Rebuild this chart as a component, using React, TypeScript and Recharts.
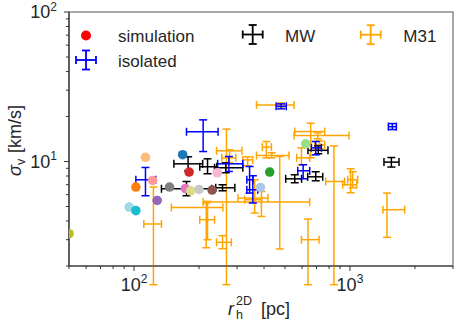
import React from 'react';
import { ScatterChart, Scatter, XAxis, YAxis, ErrorBar, ReferenceArea } from 'recharts';

const FONT = '"Liberation Sans", Arial, sans-serif';

// simulation points
const simX = [168, 385, 102, 113, 425, 624, 180, 122, 128, 230, 173, 243, 146, 200, 50, 183, 95, 102];
const simY = [11.1, 6.7, 6.75, 10.67, 8.5, 13.13, 8.5, 7.47, 5.49, 6.44, 6.6, 8.41, 6.75, 6.5, 3.29, 6.37, 4.96, 4.69];
const simColors = ['#1f77b4', '#aec7e8', '#ff7f0e', '#ffbb78', '#2ca02c', '#98df8a', '#d62728', '#ff9896', '#9467bd', '#8c564b', '#e377c2', '#f7b6d2', '#7f7f7f', '#c7c7c7', '#bcbd22', '#dbdb8d', '#9edae5', '#17becf'];

// isolated
const isoX = [113, 209, 275, 343, 355, 480, 694, 607, 1571];
const isoXLo = [102, 175, 244, 333, 333, 455, 663, 573, 1506];
const isoXHi = [126, 245, 319, 355, 374, 507, 737, 651, 1640];
const isoY = [7.55, 15.8, 9.65, 7.55, 6.47, 23.4, 12.35, 8.67, 17.1];
const isoYLo = [5.9, 11.66, 8.58, 6.15, 5.28, 22.5, 11.08, 7.66, 16.36];
const isoYHi = [9.12, 18.99, 10.8, 9.26, 8.03, 24.3, 13.6, 9.51, 17.94];

// MW
const mwX = [178, 219, 266, 175, 257, 713, 555, 694, 1555];
const mwXLo = [153, 201.5, 236, 134, 239, 639, 504, 637, 1437];
const mwXHi = [208, 241.5, 319, 229, 293, 791, 597, 748, 1687];
const mwY = [9.65, 9.22, 9.08, 6.57, 6.67, 11.88, 7.66, 7.9, 9.91];
const mwYLo = [8.67, 8.28, 8.41, 5.9, 6.37, 11.26, 7.21, 7.43, 9.18];
const mwYHi = [10.75, 10.42, 9.8, 7.35, 6.99, 12.73, 8.15, 8.54, 10.63];

// M31
const m31X = [123, 268, 277, 410, 434, 219, 473, 216, 257, 639, 389, 362, 336, 478, 658, 709, 724, 843, 1007, 1029, 1484, 596];
const m31XLo = [111, 241, 255, 393, 369, 149, 209, 201.5, 241, 596, 303, 325.5, 319, 369, 555, 551, 687, 772, 925, 976, 1421, 566.5];
const m31XHi = [134, 316, 296, 433, 522, 258, 651, 236, 282.5, 719, 417, 390, 354.5, 551, 764, 990, 764, 945, 1074, 1085, 1792, 651];
const m31Y = [3.82, 11.79, 10.58, 12.48, 10.97, 4.93, 5.36, 4.08, 2.88, 3.0, 5.69, 5.55, 10.26, 23.92, 15.86, 14.92, 12.93, 7.35, 6.99, 7.55, 4.76, 10.58];
const m31YLo = [1.5, 1.5, 9.8, 10.58, 10.58, 3.0, 2.6, 2.65, 2.61, 1.5, 4.29, 4.52, 9.36, 23.19, 10.58, 14.18, 12.16, 1.5, 6.18, 6.67, 3.11, 9.51];
const m31YHi = [6.75, 16.46, 11.97, 13.6, 11.43, 5.41, 10.8, 5.28, 3.19, 4.12, 6.3, 7.55, 10.75, 24.66, 18.05, 15.55, 13.74, 12.73, 8.94, 8.54, 6.15, 12.35];

const xTicks = [50, 60, 70, 80, 90, 100, 200, 300, 400, 500, 600, 700, 800, 900, 1000, 2000, 3000];
const yTicks = [2, 3, 4, 5, 6, 7, 8, 9, 10, 20, 30, 40, 50, 60, 70, 80, 90, 100];
const xMajor = [100, 1000];
const yMajor = [10, 100];

const build = (x: number[], y: number[], xlo: number[], xhi: number[], ylo: number[], yhi: number[]) =>
  x.map((v, i) => ({ x: v, y: y[i], ex: [v - xlo[i], xhi[i] - v], ey: [y[i] - ylo[i], yhi[i] - y[i]] }));

const simData = simX.map((v, i) => ({ x: v, y: simY[i], color: simColors[i] }));
const isoData = build(isoX, isoY, isoXLo, isoXHi, isoYLo, isoYHi);
const mwData = build(mwX, mwY, mwXLo, mwXHi, mwYLo, mwYHi);
const m31Data = build(m31X, m31Y, m31XLo, m31XHi, m31YLo, m31YHi);

const XTick = (props: any) => {
  const { x, y, payload } = props;
  const v = payload.value;
  const major = xMajor.includes(v);
  return (
    <g>
      <line x1={x} x2={x} y1={y} y2={y + (major ? 5 : 3)} stroke="#333" strokeWidth={1} />
      {major && (
        <text x={x} y={y + 24.5} textAnchor="middle" fontSize={18} fill="#262626" fontFamily={FONT}>
          10<tspan dy={-7.5} fontSize={12}>{Math.round(Math.log10(v))}</tspan>
        </text>
      )}
    </g>
  );
};

const YTick = (props: any) => {
  const { x, y, payload } = props;
  const v = payload.value;
  const major = yMajor.includes(v);
  return (
    <g>
      <line x1={x} x2={x - (major ? 5 : 3)} y1={y} y2={y} stroke="#333" strokeWidth={1} />
      {major && (
        <text x={x - 12} y={y + 6.3} textAnchor="end" fontSize={18} fill="#262626" fontFamily={FONT}>
          10<tspan dy={-7.5} fontSize={12}>{Math.round(Math.log10(v))}</tspan>
        </text>
      )}
    </g>
  );
};

const noShape = () => <g />;
const dotShape = (p: any) => <circle cx={p.cx} cy={p.cy} r={4.8} fill={p.payload.color} />;

const LegendErr = ({ cx, cy, color }: { cx: number; cy: number; color: string }) => (
  <g stroke={color} strokeWidth={1.8}>
    <line x1={cx - 10} x2={cx + 10} y1={cy} y2={cy} />
    <line x1={cx} x2={cx} y1={cy - 9.5} y2={cy + 9.5} />
    <line x1={cx - 10} x2={cx - 10} y1={cy - 4} y2={cy + 4} />
    <line x1={cx + 10} x2={cx + 10} y1={cy - 4} y2={cy + 4} />
    <line x1={cx - 4} x2={cx + 4} y1={cy - 9.5} y2={cy - 9.5} />
    <line x1={cx - 4} x2={cx + 4} y1={cy + 9.5} y2={cy + 9.5} />
  </g>
);

const EB = 1.5;

export default function App() {
  return (
    <div style={{ position: 'absolute', left: 0, top: 0, width: 463, height: 326, background: '#fff' }}>
      <ScatterChart width={463} height={326} margin={{ top: 12, right: 10, bottom: 0, left: 0 }}>
        <XAxis
          type="number"
          dataKey="x"
          scale="log"
          domain={[50, 3000]}
          allowDataOverflow
          ticks={xTicks}
          interval={0}
          tick={<XTick />}
          tickLine={false}
          tickSize={0}
          tickMargin={0}
          height={60}
          axisLine={{ stroke: '#333', strokeWidth: 1.2 }}
        />
        <YAxis
          type="number"
          dataKey="y"
          scale="log"
          domain={[2, 100]}
          allowDataOverflow
          ticks={yTicks}
          interval={0}
          tick={<YTick />}
          tickLine={false}
          tickSize={0}
          tickMargin={0}
          width={69}
          axisLine={{ stroke: '#333', strokeWidth: 1.2 }}
        />
        <ReferenceArea x1={50} x2={3000} y1={2} y2={100} fill="none" stroke="#8a8a8a" strokeWidth={1.5} />
        <Scatter data={m31Data} shape={noShape} isAnimationActive={false}>
          <ErrorBar dataKey="ex" direction="x" width={4} stroke="#ffa500" strokeWidth={EB} isAnimationActive={false} />
          <ErrorBar dataKey="ey" direction="y" width={4} stroke="#ffa500" strokeWidth={EB} isAnimationActive={false} />
        </Scatter>
        <Scatter data={mwData} shape={noShape} isAnimationActive={false}>
          <ErrorBar dataKey="ex" direction="x" width={4} stroke="#000" strokeWidth={EB} isAnimationActive={false} />
          <ErrorBar dataKey="ey" direction="y" width={4} stroke="#000" strokeWidth={EB} isAnimationActive={false} />
        </Scatter>
        <Scatter data={isoData} shape={noShape} isAnimationActive={false}>
          <ErrorBar dataKey="ex" direction="x" width={4} stroke="#0000ff" strokeWidth={EB} isAnimationActive={false} />
          <ErrorBar dataKey="ey" direction="y" width={4} stroke="#0000ff" strokeWidth={EB} isAnimationActive={false} />
        </Scatter>
        <Scatter data={simData} shape={dotShape} isAnimationActive={false} />
      </ScatterChart>
      <svg width={463} height={326} style={{ position: 'absolute', left: 0, top: 0, pointerEvents: 'none' }} fontFamily={FONT}>
        <circle cx={86} cy={35.5} r={5} fill="#ff0000" />
        <text x={118} y={41.6} fontSize={17} fill="#262626">simulation</text>
        <LegendErr cx={86} cy={60} color="#0000ff" />
        <text x={118} y={66.5} fontSize={17} fill="#262626">isolated</text>
        <LegendErr cx={252.7} cy={34.5} color="#000" />
        <text x={285} y={41.6} fontSize={17} fill="#262626">MW</text>
        <LegendErr cx={370.7} cy={34.7} color="#ffa500" />
        <text x={403.3} y={41.6} fontSize={17} fill="#262626">M31</text>
        {/* x label */}
        <text x={228} y={315} fontSize={18} fontStyle="italic" fill="#262626">r</text>
        <text x={236} y={319} fontSize={12.5} fill="#262626">h</text>
        <text x={236} y={305} fontSize={12.5} fill="#262626">2D</text>
        <text x={261} y={315} fontSize={18} fill="#262626">[pc]</text>
        {/* y label */}
        <g transform="translate(21,139) rotate(-90)">
          <text x={-37} y={0} fontSize={18} fontStyle="italic" fill="#262626">σ</text>
          <text x={-26} y={4} fontSize={12.5} fill="#262626">v</text>
          <text x={-14} y={0} fontSize={18} fill="#262626">[km/s]</text>
        </g>
      </svg>
    </div>
  );
}
